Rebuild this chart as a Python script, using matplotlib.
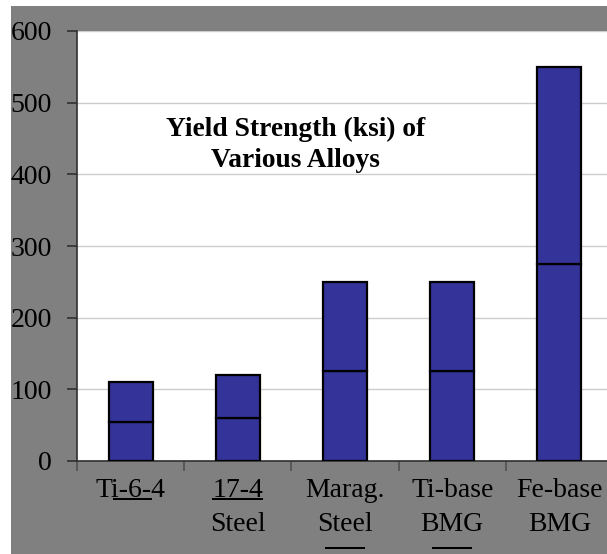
import matplotlib
matplotlib.use("Agg")
import matplotlib.pyplot as plt
from matplotlib.patches import Rectangle
from matplotlib.lines import Line2D
from matplotlib.transforms import IdentityTransform
from matplotlib.font_manager import FontProperties
import numpy as np

# Chart data
categories = ["Ti-6-4", "17-4\nSteel", "Marag.\nSteel", "Ti-base\nBMG", "Fe-base\nBMG"]
lower_part = [55, 60, 125, 125, 275]
upper_part = [55, 60, 125, 125, 275]
y_ticks = [0, 100, 200, 300, 400, 500, 600]
chart_title = "Yield Strength (ksi) of\nVarious Alloys"

W, H, DPI = 607, 554, 100
SERIF = "Liberation Serif"
FS = 20

fig = plt.figure(figsize=(W / DPI, H / DPI), dpi=DPI)
fig.patch.set_facecolor("white")
fig.add_artist(Rectangle((11 / W, 0), 1, (H - 6) / H, transform=fig.transFigure,
                         facecolor="#808080", edgecolor="none", zorder=-5))

ax = fig.add_axes([77 / W, (H - 461) / H, 536 / W, 430 / H])
ax.set_facecolor("white")

x = np.arange(len(categories)) + 0.5
bar_kw = dict(width=0.41, color="#333399", edgecolor="black", linewidth=1.6, zorder=3)
ax.bar(x, lower_part, **bar_kw)
ax.bar(x, upper_part, bottom=lower_part, **bar_kw)

ax.set_xlim(0, len(categories))
ax.set_ylim(0, 600)
ax.set_yticks(y_ticks)
ax.set_yticklabels([str(v) for v in y_ticks], fontfamily=SERIF, fontsize=FS)
ax.yaxis.grid(True, color="#cccccc", linewidth=1.0)
ax.set_axisbelow(True)

ax.set_xticks(np.arange(len(categories) + 1))
ax.set_xticklabels([])
ax.set_xticks(x, minor=True)
ax.set_xticklabels(categories, minor=True, fontfamily=SERIF, fontsize=FS, linespacing=1.5)
ax.tick_params(axis="x", which="major", length=7, width=1.2, color="#505050", direction="out")
ax.tick_params(axis="x", which="minor", length=0, pad=12)
ax.tick_params(axis="y", length=7, width=1.2, color="#303030", pad=11)

for side in ("top", "right"):
    ax.spines[side].set_visible(False)
ax.spines["left"].set_color("#303030")
ax.spines["bottom"].set_color("#303030")
ax.spines["left"].set_linewidth(1.2)
ax.spines["bottom"].set_linewidth(1.2)

ax.text(0.407, 0.735, chart_title, transform=ax.transAxes, ha="center", va="center",
        fontfamily=SERIF, fontsize=19.8, fontweight="bold", linespacing=1.35)

# Underlines on some category labels
fig.canvas.draw()
renderer = fig.canvas.get_renderer()
labels = ax.xaxis.get_ticklabels(minor=True)
prop = FontProperties(family=SERIF, size=FS)


def text_w(s):
    w, h, d = renderer.get_text_width_height_descent(s, prop, ismath=False)
    return w


bb0 = labels[0].get_window_extent(renderer)
lp_descent = renderer.get_text_width_height_descent("lp", prop, ismath=False)[2]
underline_y = bb0.y0 + lp_descent - 2
lw = 2.0 * 72 / DPI


def hline(x0, x1, y):
    fig.add_artist(Line2D([x0, x1], [y, y], transform=IdentityTransform(),
                          color="black", linewidth=lw, solid_capstyle="butt"))


hline(bb0.x0 + text_w("T"), bb0.x0 + text_w("Ti-6-"), underline_y)
bb1 = labels[1].get_window_extent(renderer)
cx1 = (bb1.x0 + bb1.x1) / 2
w17 = text_w("17-4")
hline(cx1 - w17 / 2, cx1 + w17 / 2, underline_y)
for i in (2, 3):
    bb = labels[i].get_window_extent(renderer)
    cx = (bb.x0 + bb.x1) / 2
    hline(cx - 20, cx + 20, underline_y - 49)

fig.savefig("out.png", dpi=DPI)
